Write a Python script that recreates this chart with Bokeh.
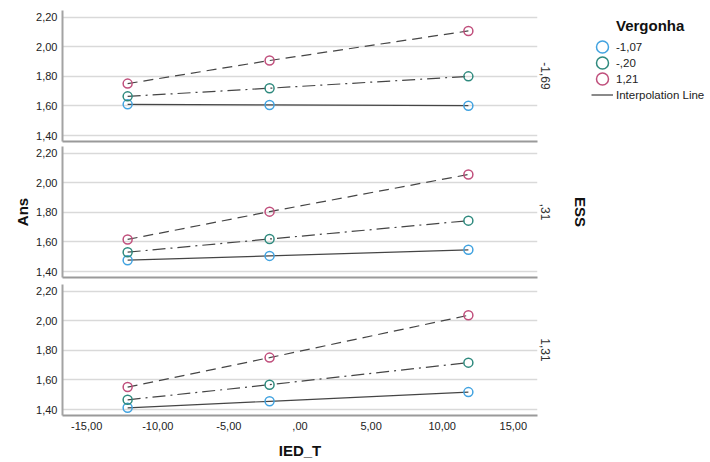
from bokeh.plotting import figure
from bokeh.models import FixedTicker, Title, Legend, LegendItem, Range1d
from bokeh.layouts import column, row
from bokeh.embed import file_html
from bokeh.resources import INLINE

# ---- data ----
ied_t = [-12.12, -2.14, 11.84]
ess_labels = ["-1,69", ",31", "1,31"]
vergonha_labels = ["-1,07", "-,20", "1,21"]

# Ans for each ESS panel and each Vergonha level
ans_ess1_v1 = [1.611, 1.607, 1.602]
ans_ess1_v2 = [1.665, 1.720, 1.800]
ans_ess1_v3 = [1.751, 1.907, 2.107]

ans_ess2_v1 = [1.477, 1.506, 1.547]
ans_ess2_v2 = [1.531, 1.620, 1.744]
ans_ess2_v3 = [1.617, 1.805, 2.056]

ans_ess3_v1 = [1.412, 1.456, 1.518]
ans_ess3_v2 = [1.466, 1.568, 1.717]
ans_ess3_v3 = [1.552, 1.751, 2.037]

y_ticks = [1.4, 1.6, 1.8, 2.0, 2.2]
y_tick_labels = ["1,40", "1,60", "1,80", "2,00", "2,20"]
x_ticks = [-15, -10, -5, 0, 5, 10, 15]
x_tick_labels = ["-15,00", "-10,00", "-5,00", ",00", "5,00", "10,00", "15,00"]

panels = [
    [ans_ess1_v1, ans_ess1_v2, ans_ess1_v3],
    [ans_ess2_v1, ans_ess2_v2, ans_ess2_v3],
    [ans_ess3_v1, ans_ess3_v2, ans_ess3_v3],
]

# ---- styles ----
FONT = "Liberation Sans"
marker_colors = ["#42a3e0", "#2f8a7e", "#c04f7c"]
line_dashes = ["solid", "13 5 2 5", "10 6"]
AXIS_COLOR = "#a3a3a3"
GRID_COLOR = "#d9d9d9"

x_range = Range1d(-16.7, 16.7)
borders = [(10, 5), (0, 7), (0, 47)]
right_borders = [47, 52, 52]

figs = []
for i, series in enumerate(panels):
    top, bottom = borders[i]
    p = figure(frame_width=475, frame_height=131, x_range=x_range,
               y_range=Range1d(1.36, 2.245), output_backend="svg",
               toolbar_location=None, min_border_left=62,
               min_border_right=right_borders[i],
               min_border_top=top, min_border_bottom=bottom,
               background_fill_color="white", border_fill_color="white")
    p.outline_line_color = None
    p.xgrid.visible = False
    p.ygrid.grid_line_color = GRID_COLOR
    p.ygrid.grid_line_width = 1.5

    ya = p.yaxis[0]
    ya.ticker = FixedTicker(ticks=y_ticks)
    ya.major_label_overrides = dict(zip(y_ticks, y_tick_labels))
    ya.major_tick_out = 0
    ya.major_tick_in = 0
    ya.minor_tick_out = 0
    ya.minor_tick_in = 0
    ya.axis_line_color = AXIS_COLOR
    ya.axis_line_width = 2
    ya.major_label_text_font = FONT
    ya.major_label_text_font_size = "11px"
    ya.major_label_text_color = "#222222"
    ya.major_label_standoff = 5

    xa = p.xaxis[0]
    xa.major_tick_out = 0
    xa.major_tick_in = 0
    xa.minor_tick_out = 0
    xa.minor_tick_in = 0
    xa.axis_line_color = "#9a9a9a"
    xa.axis_line_width = 2
    if i < 2:
        xa.ticker = FixedTicker(ticks=[])
    else:
        xa.ticker = FixedTicker(ticks=x_ticks)
        xa.major_label_overrides = dict(zip(x_ticks, x_tick_labels))
        xa.major_label_text_font = FONT
        xa.major_label_text_font_size = "11px"
        xa.major_label_text_color = "#222222"
        xa.major_label_standoff = 6
        xa.axis_label = "IED_T"
        xa.axis_label_text_font = FONT
        xa.axis_label_text_font_size = "15px"
        xa.axis_label_text_font_style = "bold"
        xa.axis_label_text_color = "#111111"
        xa.axis_label_standoff = 9

    if i == 1:
        ya.axis_label = "Ans"
        ya.axis_label_text_font = FONT
        ya.axis_label_text_font_size = "15px"
        ya.axis_label_text_font_style = "bold"
        ya.axis_label_text_color = "#111111"
        ya.axis_label_standoff = 2

    for j, ys in enumerate(series):
        p.line(ied_t, ys, line_color="#454545", line_width=1.2,
               line_dash=line_dashes[j])
    for j, ys in enumerate(series):
        p.scatter(ied_t, ys, marker="circle", size=9, fill_color=None,
                  line_color=marker_colors[j], line_width=1.5)

    p.add_layout(Title(text=ess_labels[i], align="center", text_font=FONT,
                       text_font_size="12px", text_font_style="normal",
                       text_color="#333333", standoff=7), "right")
    if i == 1:
        p.add_layout(Title(text="ESS", align="center", text_font=FONT,
                           text_font_size="15px", text_font_style="bold",
                           text_color="#111111", standoff=32), "right")
    figs.append(p)

# ---- legend in its own narrow figure to the right of the top panel ----
# its renderers hold the first panel's data but lie outside this figure's
# ranges, so only their legend glyphs are seen
lf = figure(width=126, height=146, output_backend="svg", toolbar_location=None,
            x_range=Range1d(100, 101), y_range=Range1d(100, 101),
            min_border_left=0, min_border_right=0, min_border_top=10,
            min_border_bottom=5, background_fill_color="white",
            border_fill_color="white")
lf.axis.visible = False
lf.grid.visible = False
lf.outline_line_color = None
legend_series = [ans_ess1_v1, ans_ess1_v2, ans_ess1_v3]
leg_rs = [lf.ellipse(x=ied_t, y=legend_series[j], width=10, height=10,
                     width_units="screen", height_units="screen",
                     fill_color=None, line_color=marker_colors[j],
                     line_width=1.5)
          for j in range(3)]
interp = lf.line(x=ied_t, y=ans_ess1_v1, line_color="#8a8a8a", line_width=2)
items = [LegendItem(label=vergonha_labels[j], renderers=[leg_rs[j]])
         for j in range(3)]
items.append(LegendItem(label="Interpolation Line", renderers=[interp]))
legend = Legend(items=items, title="\u00a0" * 6 + "Vergonha",
                title_text_font=FONT, title_text_font_size="15px",
                title_text_font_style="bold", title_text_color="#111111",
                title_standoff=5,
                label_text_font=FONT, label_text_font_size="11.5px",
                label_text_color="#222222",
                glyph_width=22, glyph_height=15, spacing=1,
                label_standoff=3, label_height=15,
                padding=0, margin=7, border_line_color=None,
                background_fill_color=None, location="top_left")
lf.add_layout(legend, "center")

layout = column(row(figs[0], lf), figs[1], figs[2])
open("out.html", "w").write(file_html(layout, INLINE))
